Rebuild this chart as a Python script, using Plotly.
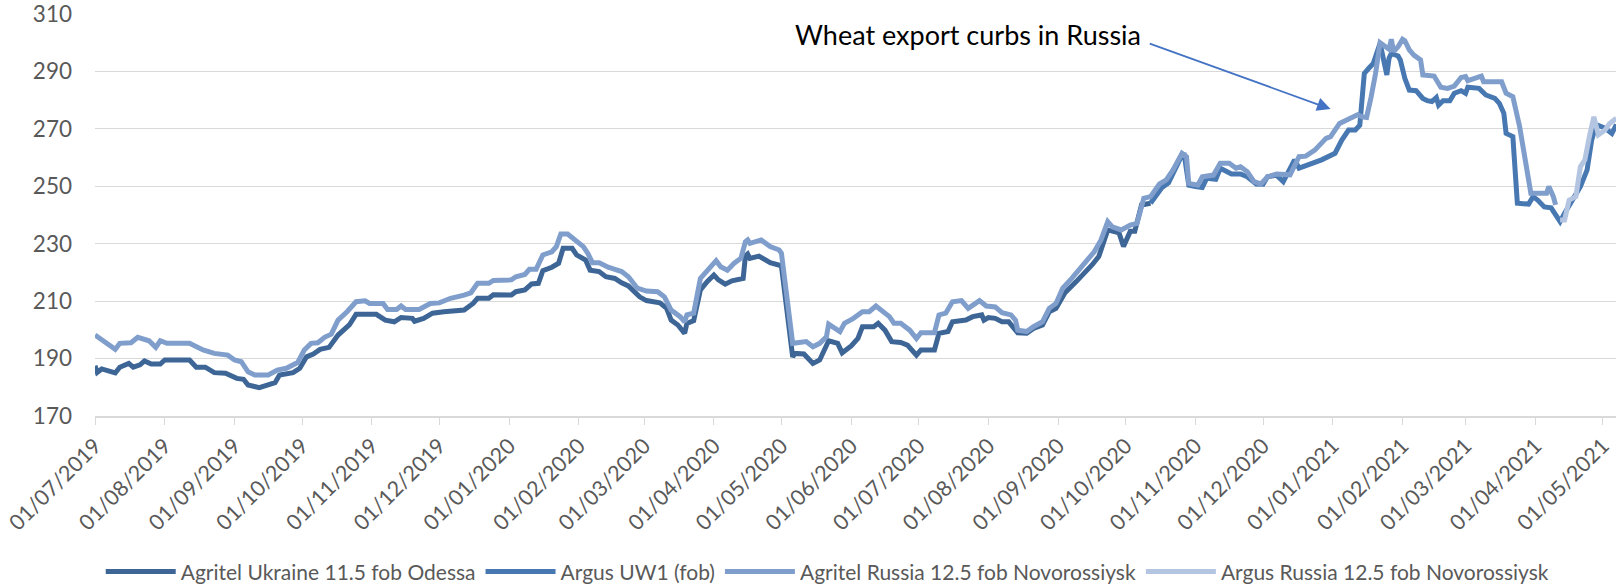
import plotly.graph_objects as go

# ---------------- data ----------------
ukr_agritel_dates = [
    "2019-07-01", "2019-07-02", "2019-07-04", "2019-07-10", "2019-07-12", "2019-07-16", "2019-07-18",
    "2019-07-21", "2019-07-23", "2019-07-26", "2019-07-30", "2019-08-01", "2019-08-12", "2019-08-15",
    "2019-08-19", "2019-08-23", "2019-08-28", "2019-09-02", "2019-09-05", "2019-09-07", "2019-09-12",
    "2019-09-15", "2019-09-19", "2019-09-21", "2019-09-27", "2019-09-30", "2019-10-03", "2019-10-06",
    "2019-10-09", "2019-10-13", "2019-10-17", "2019-10-22", "2019-10-25", "2019-11-03", "2019-11-07",
    "2019-11-11", "2019-11-14", "2019-11-19", "2019-11-20", "2019-11-24", "2019-11-28", "2019-12-03",
    "2019-12-12", "2019-12-16", "2019-12-18", "2019-12-23", "2019-12-25", "2020-01-02", "2020-01-04",
    "2020-01-08", "2020-01-11", "2020-01-14", "2020-01-16", "2020-01-20", "2020-01-23", "2020-01-25",
    "2020-01-29", "2020-01-31", "2020-02-04", "2020-02-06", "2020-02-10", "2020-02-13", "2020-02-17",
    "2020-02-20", "2020-02-23", "2020-02-28", "2020-03-02", "2020-03-08", "2020-03-11", "2020-03-13",
    "2020-03-16", "2020-03-19", "2020-03-20", "2020-03-23", "2020-03-26", "2020-03-29", "2020-04-01",
    "2020-04-03", "2020-04-06", "2020-04-09", "2020-04-14", "2020-04-15", "2020-04-16", "2020-04-17",
    "2020-04-21", "2020-04-26", "2020-04-29", "2020-05-01", "2020-05-06", "2020-05-07", "2020-05-11",
    "2020-05-15", "2020-05-18", "2020-05-22", "2020-05-26", "2020-05-28", "2020-06-01", "2020-06-04",
    "2020-06-06", "2020-06-11", "2020-06-13", "2020-06-16", "2020-06-19", "2020-06-23", "2020-06-26",
    "2020-06-30", "2020-07-02", "2020-07-08", "2020-07-10", "2020-07-14", "2020-07-16", "2020-07-22",
    "2020-07-25", "2020-07-29", "2020-07-30", "2020-08-01", "2020-08-04", "2020-08-07", "2020-08-10",
    "2020-08-12", "2020-08-14", "2020-08-18", "2020-08-21", "2020-08-25", "2020-08-28", "2020-08-31",
    "2020-09-04", "2020-09-09", "2020-09-12", "2020-09-16", "2020-09-19", "2020-09-23", "2020-09-28",
    "2020-09-30", "2020-10-03", "2020-10-05", "2020-10-08", "2020-10-12",
]
ukr_agritel_values = [
    187.5, 185.2, 186.4, 185.0, 187.0, 188.3, 187.0,
    187.8, 189.2, 188.1, 188.1, 189.5, 189.5, 187.0,
    187.0, 185.1, 184.9, 183.1, 182.8, 180.8, 179.9,
    180.8, 181.6, 184.3, 185.1, 186.6, 190.6, 191.6,
    193.2, 193.9, 198.2, 201.7, 205.4, 205.4, 203.4,
    202.8, 204.3, 204.0, 203.0, 204.0, 205.8, 206.3,
    206.9, 209.2, 211.0, 211.0, 212.2, 212.1, 213.3,
    213.9, 216.0, 216.2, 220.6, 221.8, 223.2, 228.4,
    228.4, 226.1, 224.3, 220.8, 220.3, 218.5, 217.9,
    216.4, 215.3, 211.5, 210.2, 209.4, 207.5, 203.4,
    201.7, 198.8, 202.2, 203.2, 213.9, 216.8, 219.1,
    217.4, 215.9, 217.1, 217.9, 225.7, 226.4, 224.9,
    225.7, 223.4, 222.6, 222.3, 190.6, 191.8, 191.6,
    188.3, 189.5, 196.2, 195.3, 192.0, 194.4, 197.0,
    201.1, 201.1, 202.3, 199.9, 195.9, 195.6, 194.7,
    191.2, 193.0, 193.0, 198.8, 199.4, 202.8, 203.4,
    204.6, 205.2, 203.4, 204.3, 204.0, 202.8, 202.8,
    201.1, 199.0, 198.8, 200.5, 201.7, 206.3, 207.5,
    212.9, 216.8, 219.1, 222.6, 225.5, 234.8, 233.8,
    229.0, 234.3, 234.3, 243.5, 244.1,
]

ukr_argus_dates = [
    "2020-10-12", "2020-10-17", "2020-10-20", "2020-10-22", "2020-10-26", "2020-10-27", "2020-10-29",
    "2020-11-01", "2020-11-04", "2020-11-06", "2020-11-10", "2020-11-12", "2020-11-15", "2020-11-17",
    "2020-11-21", "2020-11-24", "2020-11-28", "2020-12-01", "2020-12-03", "2020-12-07", "2020-12-10",
    "2020-12-15", "2020-12-17", "2020-12-21", "2020-12-27", "2021-01-02", "2021-01-05", "2021-01-08",
    "2021-01-11", "2021-01-13", "2021-01-14", "2021-01-15", "2021-01-17", "2021-01-19", "2021-01-22",
    "2021-01-23", "2021-01-25", "2021-01-26", "2021-01-27", "2021-01-30", "2021-01-31", "2021-02-02",
    "2021-02-04", "2021-02-07", "2021-02-10", "2021-02-12", "2021-02-14", "2021-02-16", "2021-02-17",
    "2021-02-19", "2021-02-22", "2021-02-24", "2021-02-27", "2021-03-01", "2021-03-02", "2021-03-07",
    "2021-03-10", "2021-03-14", "2021-03-16", "2021-03-18", "2021-03-19", "2021-03-22", "2021-03-24",
    "2021-03-29", "2021-03-31", "2021-04-02", "2021-04-05", "2021-04-08", "2021-04-10", "2021-04-12",
    "2021-04-14", "2021-04-18", "2021-04-21", "2021-04-24", "2021-04-26", "2021-04-28", "2021-04-30",
    "2021-05-02", "2021-05-05", "2021-05-07",
]
ukr_argus_values = [
    244.1, 249.5, 251.2, 254.5, 260.9, 260.9, 250.4,
    249.9, 249.6, 252.8, 252.4, 256.3, 255.1, 254.3,
    254.3, 253.3, 250.8, 250.7, 253.3, 253.9, 251.6,
    259.2, 256.3, 257.4, 259.2, 261.5, 266.1, 269.6,
    269.6, 271.3, 279.4, 289.3, 291.1, 292.8, 299.8,
    296.3, 288.8, 294.6, 296.3, 295.4, 294.0, 287.6,
    283.5, 283.3, 280.6, 279.8, 279.5, 280.9, 278.3,
    279.8, 279.8, 282.4, 283.3, 282.4, 284.5, 284.1,
    281.8, 280.6, 278.9, 275.4, 268.4, 267.3, 244.1,
    243.8, 246.4, 245.2, 242.8, 242.5, 240.3, 237.7,
    240.6, 246.0, 249.9, 255.7, 266.0, 271.5, 270.8,
    270.2, 268.4, 271.5,
]

rus_agritel_dates = [
    "2019-07-01", "2019-07-03", "2019-07-10", "2019-07-12", "2019-07-17", "2019-07-20", "2019-07-25",
    "2019-07-28", "2019-07-30", "2019-08-02", "2019-08-12", "2019-08-18", "2019-08-23", "2019-08-29",
    "2019-09-01", "2019-09-04", "2019-09-07", "2019-09-10", "2019-09-16", "2019-09-20", "2019-09-24",
    "2019-09-29", "2019-10-02", "2019-10-05", "2019-10-08", "2019-10-11", "2019-10-14", "2019-10-17",
    "2019-10-21", "2019-10-25", "2019-10-29", "2019-10-31", "2019-11-06", "2019-11-08", "2019-11-12",
    "2019-11-14", "2019-11-16", "2019-11-22", "2019-11-27", "2019-12-01", "2019-12-06", "2019-12-12",
    "2019-12-15", "2019-12-18", "2019-12-23", "2019-12-25", "2020-01-02", "2020-01-04", "2020-01-08",
    "2020-01-10", "2020-01-13", "2020-01-16", "2020-01-20", "2020-01-22", "2020-01-24", "2020-01-27",
    "2020-01-31", "2020-02-03", "2020-02-05", "2020-02-07", "2020-02-10", "2020-02-14", "2020-02-17",
    "2020-02-20", "2020-02-23", "2020-02-27", "2020-03-02", "2020-03-07", "2020-03-10", "2020-03-13",
    "2020-03-17", "2020-03-19", "2020-03-20", "2020-03-23", "2020-03-26", "2020-03-29", "2020-04-02",
    "2020-04-04", "2020-04-07", "2020-04-10", "2020-04-13", "2020-04-15", "2020-04-16", "2020-04-17",
    "2020-04-22", "2020-04-26", "2020-04-30", "2020-05-01", "2020-05-03", "2020-05-06", "2020-05-12",
    "2020-05-15", "2020-05-18", "2020-05-21", "2020-05-22", "2020-05-24", "2020-05-27", "2020-05-29",
    "2020-06-02", "2020-06-06", "2020-06-09", "2020-06-12", "2020-06-15", "2020-06-18", "2020-06-20",
    "2020-06-23", "2020-06-27", "2020-06-30", "2020-07-02", "2020-07-08", "2020-07-10", "2020-07-13",
    "2020-07-16", "2020-07-20", "2020-07-23", "2020-07-25", "2020-07-28", "2020-07-31", "2020-08-04",
    "2020-08-07", "2020-08-11", "2020-08-13", "2020-08-14", "2020-08-18", "2020-08-21", "2020-08-25",
    "2020-08-28", "2020-08-31", "2020-09-03", "2020-09-07", "2020-09-10", "2020-09-13", "2020-09-17",
    "2020-09-20", "2020-09-23", "2020-09-25", "2020-09-29", "2020-10-03", "2020-10-06", "2020-10-09",
    "2020-10-12", "2020-10-16", "2020-10-19", "2020-10-22", "2020-10-26", "2020-10-28", "2020-10-29",
    "2020-11-02", "2020-11-04", "2020-11-09", "2020-11-12", "2020-11-16", "2020-11-19", "2020-11-21",
    "2020-11-24", "2020-11-27", "2020-11-30", "2020-12-03", "2020-12-07", "2020-12-13", "2020-12-17",
    "2020-12-20", "2020-12-24", "2020-12-29", "2020-12-31", "2021-01-04", "2021-01-07", "2021-01-12",
    "2021-01-14", "2021-01-16", "2021-01-18", "2021-01-20", "2021-01-22", "2021-01-24", "2021-01-26",
    "2021-01-27", "2021-01-28", "2021-01-30", "2021-02-01", "2021-02-02", "2021-02-04", "2021-02-06",
    "2021-02-09", "2021-02-10", "2021-02-15", "2021-02-18", "2021-02-21", "2021-02-24", "2021-02-27",
    "2021-03-01", "2021-03-02", "2021-03-05", "2021-03-08", "2021-03-09", "2021-03-17", "2021-03-19",
    "2021-03-22", "2021-03-25", "2021-03-30", "2021-04-06", "2021-04-07", "2021-04-09", "2021-04-10",
]
rus_agritel_values = [
    198.2, 197.0, 193.2, 195.3, 195.5, 197.4, 196.2,
    193.9, 196.2, 195.3, 195.3, 193.0, 191.8, 191.2,
    189.5, 188.9, 185.4, 184.3, 184.3, 186.0, 186.6,
    188.6, 193.0, 195.3, 195.5, 197.4, 198.5, 203.4,
    206.3, 209.8, 210.1, 209.2, 209.2, 207.1, 207.1,
    208.3, 207.1, 207.1, 209.2, 209.4, 211.0, 212.1,
    212.9, 216.2, 216.2, 217.2, 217.4, 218.5, 219.3,
    221.1, 221.1, 226.1, 227.2, 229.0, 233.4, 233.4,
    230.7, 229.0, 226.6, 223.4, 223.4, 221.8, 221.1,
    220.3, 218.5, 214.5, 213.5, 213.3, 211.5, 206.9,
    204.6, 202.8, 205.2, 205.8, 217.9, 220.8, 224.1,
    222.0, 220.8, 223.2, 224.9, 230.7, 231.3, 230.1,
    231.3, 229.0, 227.8, 226.7, 212.7, 195.3, 195.9,
    194.1, 195.3, 197.6, 202.0, 201.1, 199.4, 202.3,
    204.0, 206.3, 206.3, 208.3, 206.7, 204.6, 202.3,
    202.3, 199.9, 197.0, 199.0, 199.0, 205.2, 205.8,
    209.8, 210.2, 207.5, 208.7, 210.2, 208.3, 208.0,
    206.0, 205.2, 203.4, 199.9, 199.4, 201.1, 202.8,
    207.5, 209.2, 214.5, 217.9, 220.8, 223.7, 227.2,
    231.3, 237.7, 235.9, 234.8, 236.5, 237.1, 245.8,
    246.4, 250.8, 252.2, 255.7, 261.5, 260.3, 251.0,
    250.4, 253.3, 253.9, 258.0, 258.0, 256.3, 256.8,
    255.1, 251.6, 250.8, 253.3, 254.3, 254.0, 260.3,
    260.5, 262.6, 266.7, 267.3, 271.9, 273.1, 274.9,
    274.2, 274.0, 281.0, 289.3, 300.0, 298.6, 297.7,
    301.2, 296.9, 298.6, 301.2, 300.7, 297.5, 295.7,
    294.0, 288.8, 288.4, 284.5, 284.1, 284.9, 287.9,
    288.2, 286.8, 287.6, 288.4, 286.4, 286.4, 282.4,
    281.2, 270.8, 247.6, 247.6, 249.9, 246.4, 243.5,
]

rus_argus_dates = [
    "2021-04-12", "2021-04-14", "2021-04-16", "2021-04-19", "2021-04-21", "2021-04-23",
    "2021-04-25", "2021-04-27", "2021-04-29", "2021-05-02", "2021-05-04", "2021-05-07",
]
rus_argus_values = [
    238.3, 238.3, 245.2, 246.4, 256.8, 259.2,
    267.3, 274.2, 267.9, 269.6, 271.9, 273.7,
]

series_names = [
    "Agritel Ukraine 11.5 fob Odessa",
    "Argus UW1 (fob)",
    "Agritel Russia 12.5 fob Novorossiysk",
    "Argus Russia 12.5 fob Novorossiysk",
]
series_colors = ["#3D6697", "#4878B2", "#7F9ECC", "#B4C5E2"]

tick_dates = [
    "2019-07-01", "2019-08-01", "2019-09-01", "2019-10-01", "2019-11-01", "2019-12-01",
    "2020-01-01", "2020-02-01", "2020-03-01", "2020-04-01", "2020-05-01", "2020-06-01",
    "2020-07-01", "2020-08-01", "2020-09-01", "2020-10-01", "2020-11-01", "2020-12-01",
    "2021-01-01", "2021-02-01", "2021-03-01", "2021-04-01", "2021-05-01",
]
tick_labels = [d[8:10] + "/" + d[5:7] + "/" + d[0:4] for d in tick_dates]
y_ticks = [170, 190, 210, 230, 250, 270, 290, 310]

annotation_text = "Wheat export curbs in Russia"

# ---------------- figure ----------------
FONT = "Lato, 'Noto Sans', sans-serif"
GREY = "#595959"

fig = go.Figure()
all_series = [
    (ukr_agritel_dates, ukr_agritel_values),
    (ukr_argus_dates, ukr_argus_values),
    (rus_agritel_dates, rus_agritel_values),
    (rus_argus_dates, rus_argus_values),
]
for (xs, ys), name, col in zip(all_series, series_names, series_colors):
    fig.add_trace(go.Scatter(
        x=xs, y=ys, name=name, mode="lines",
        line=dict(color=col, width=5),
        hoverinfo="skip",
    ))

fig.update_layout(
    width=1623, height=586,
    margin=dict(l=95, r=7, t=14, b=170, autoexpand=False),
    paper_bgcolor="white", plot_bgcolor="white",
    font=dict(family=FONT, size=21, color=GREY),
    showlegend=True,
    legend=dict(
        orientation="h",
        xref="container", yref="container",
        x=0.51, xanchor="center", y=0.024, yanchor="middle",
        font=dict(family=FONT, size=21, color=GREY),
        itemwidth=70, tracegroupgap=0,
    ),
    xaxis=dict(
        type="date", automargin=False,
        range=["2019-07-01", "2021-05-06 20:00"],
        tickmode="array", tickvals=tick_dates, ticktext=tick_labels,
        tickangle=-45,
        ticks="outside", ticklen=7, tickcolor="#D9D9D9", tickwidth=1.3,
        showline=True, linecolor="#D9D9D9", linewidth=1.5,
        showgrid=False, zeroline=False,
        ticklabeloverflow="allow",
        tickfont=dict(family=FONT, size=21.5, color=GREY),
    ),
    yaxis=dict(
        range=[170, 310], automargin=False,
        tickmode="array", tickvals=y_ticks,
        showgrid=True, gridcolor="#D9D9D9", gridwidth=1.3,
        showline=False, zeroline=False, ticks="",
        ticklabelstandoff=22,
        ticklabeloverflow="allow",
        tickfont=dict(family=FONT, size=22.5, color=GREY),
    ),
    annotations=[
        dict(
            x=0.574, y=0.948, xref="paper", yref="paper",
            text=annotation_text, showarrow=False,
            font=dict(family=FONT, size=27, color="#000000"),
            xanchor="center", yanchor="middle",
        ),
        dict(
            x="2020-12-31", y=276.9, xref="x", yref="y",
            ax="2020-10-11", ay=299.9, axref="x", ayref="y",
            text="", showarrow=True,
            arrowhead=2, arrowsize=1.5, arrowwidth=1.8, arrowcolor="#4472C4",
        ),
    ],
)

fig.write_html(
    "out.html",
    config={"displayModeBar": False},
    post_script="document.body.style.margin='0';document.body.style.overflow='hidden';",
)
